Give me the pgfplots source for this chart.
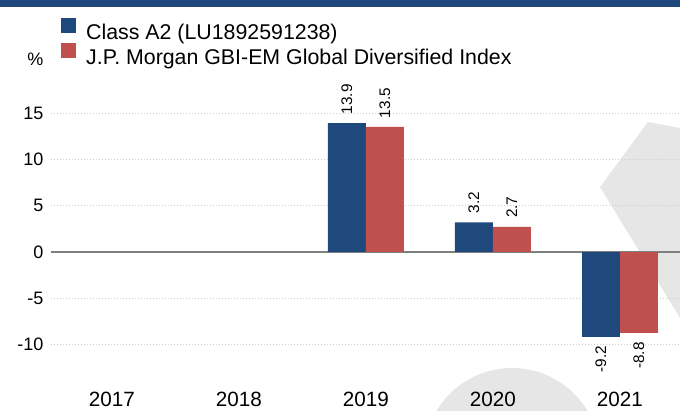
\documentclass[border=0pt]{standalone}
\usepackage{pgfplots}
\pgfplotsset{compat=1.18}
\usepackage{fontspec}
\setmainfont{Liberation Sans}
\definecolor{cblue}{RGB}{31,73,125}
\definecolor{cred}{RGB}{192,80,77}
\definecolor{band}{RGB}{31,73,125}
\definecolor{wm}{RGB}{230,230,230}
\definecolor{gridc}{RGB}{205,205,205}
\definecolor{zeroc}{RGB}{128,128,128}
\pgfplotsset{sqlegend/.style={legend image code/.code={\fill[##1] (0pt,-0.2pt) rectangle (11.25pt,11pt);}}}
\begin{document}
\begin{tikzpicture}[x=0.75pt,y=0.75pt]
\useasboundingbox (0,0) rectangle (680,410);
\fill[band] (0,403) rectangle (680,410);
\fill[wm] (648,288) -- (680,282) -- (680,92) -- (600,223) -- cycle;
\fill[wm] (512,-46) circle (88);
\node[font=\fontsize{13.5}{16}\selectfont, anchor=center] at (35.5,351) {\%};
\begin{axis}[
 at={(40,70.8)}, anchor=south west,
 scale only axis, width=472.5pt, height=173.55pt,
 xmin=-0.48, xmax=4.48, ymin=-10, ymax=15,
 axis line style={draw=none},
 major tick length=0pt,
 xtick={0,1,2,3,4}, xticklabels={2017,2018,2019,2020,2021},
 xticklabel style={font=\fontsize{15.5}{18}\selectfont, anchor=north, inner sep=0pt, yshift=-35.6pt},
 ytick={-10,-5,5,10,15},
 yticklabel style={font=\fontsize{13.5}{16}\selectfont, inner xsep=0pt, xshift=-5.3pt},
 extra y ticks={0},
 extra y tick style={grid style={solid, zeroc, line width=1.1pt, dash pattern=}},
 ymajorgrids, grid style={gridc, line width=0.75pt, dash pattern=on 0.75pt off 1.5pt},
 /pgf/number format/assume math mode=true,
 ybar=0pt, bar width=28.5pt,
 clip=false,
 legend style={at={(axis cs:-0.40,25.34)}, anchor=north west, draw=none, fill=none,
   inner sep=0pt, font=\fontsize{16}{19}\selectfont, row sep=1.7pt, column sep=7.5pt,
   nodes={inner sep=0pt}, cells={anchor=west}},
 every node near coord/.append style={font=\fontsize{11.5}{13}\selectfont, text=black, rotate=90, inner xsep=6.5pt, inner ysep=0pt},
]
\addplot[fill=cblue, draw=none, bar shift=-14.25pt, sqlegend,
  nodes near coords={\pgfmathprintnumber[fixed,fixed zerofill,precision=1]{\pgfplotspointmeta}},
  every node near coord/.append style={anchor=west}]
  coordinates {(2,13.9) (3,3.2)};
\addlegendentry{Class A2 (LU1892591238)}
\addplot[fill=cred, draw=none, bar shift=14.25pt, sqlegend,
  nodes near coords={\pgfmathprintnumber[fixed,fixed zerofill,precision=1]{\pgfplotspointmeta}},
  every node near coord/.append style={anchor=west}]
  coordinates {(2,13.5) (3,2.7)};
\addlegendentry{J.P. Morgan GBI-EM Global Diversified Index}
\addplot[fill=cblue, draw=none, bar shift=-14.25pt, forget plot,
  nodes near coords={\pgfmathprintnumber[fixed,fixed zerofill,precision=1]{\pgfplotspointmeta}},
  every node near coord/.append style={anchor=east}]
  coordinates {(4,-9.2)};
\addplot[fill=cred, draw=none, bar shift=14.25pt, forget plot,
  nodes near coords={\pgfmathprintnumber[fixed,fixed zerofill,precision=1]{\pgfplotspointmeta}},
  every node near coord/.append style={anchor=east}]
  coordinates {(4,-8.8)};
\end{axis}
\end{tikzpicture}
\end{document}
